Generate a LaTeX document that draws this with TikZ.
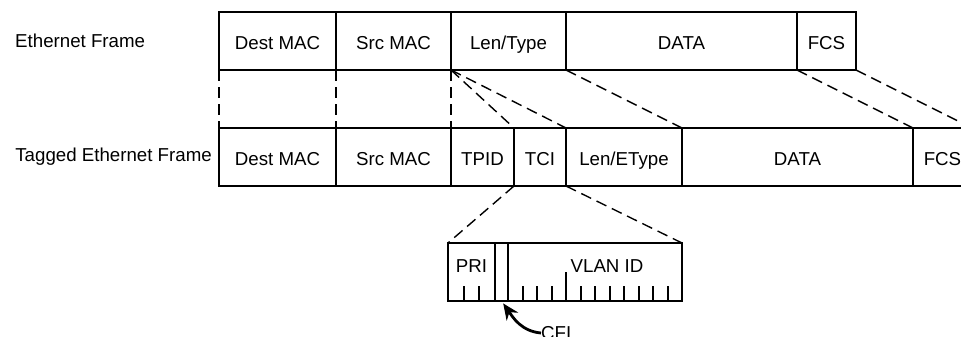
\documentclass[tikz,border=0pt]{standalone}
\usepackage{fontspec}
\setmainfont{Liberation Sans}
\usetikzlibrary{arrows.meta, positioning, calc}
\tikzset{
  FrameField/.style = {
      draw,
      line width = 1.8pt,
      outer sep = 0pt,
      inner sep = 0pt,
      minimum height = 58pt,
      anchor = north west,
      font = \fontsize{18.7}{22}\selectfont,
      text height = 17.8pt,
      text depth = 0pt,
  },
  RowLabel/.style = {
      inner sep = 0pt,
      font = \fontsize{18.7}{22}\selectfont,
  },
  MapLine/.style = {
      line width = 1.4pt,
      dash pattern = on 11pt off 6pt,
  },
  BitTick/.style = {line width = 2pt},
  CfiArrow/.style = {
      line width = 2.8pt,
      -{Stealth[length=16pt, width=14pt]},
      shorten >= 3pt,
  },
}
\begin{document}
\begin{tikzpicture}[x=1pt, y=-1pt]
  \useasboundingbox (0,0) rectangle (961,337);

  % Ethernet Frame oben
  \node[RowLabel, anchor=west] (ethlabel) at (15,41) {Ethernet Frame};
  \node[FrameField, minimum width=117pt] (ethdest) at (219,12) {Dest MAC};
  \node[FrameField, minimum width=115pt, right=0pt of ethdest] (ethsrc) {Src MAC};
  \node[FrameField, minimum width=115pt, right=0pt of ethsrc] (ethlen) {Len/Type};
  \node[FrameField, minimum width=231pt, right=0pt of ethlen] (ethdata) {DATA};
  \node[FrameField, minimum width=59pt, right=0pt of ethdata] (ethfcs) {FCS};

  % Tagged Ethernet Frame unten
  \node[FrameField, minimum width=117pt] (vlandest) at (219,128) {Dest MAC};
  \node[RowLabel, left=7pt of vlandest] (vlanlabel) {Tagged Ethernet Frame};
  \node[FrameField, minimum width=115pt, right=0pt of vlandest] (vlansrc) {Src MAC};
  \node[FrameField, minimum width=63pt, right=0pt of vlansrc] (vlantpid) {TPID};
  \node[FrameField, minimum width=52pt, right=0pt of vlantpid] (vlantci) {TCI};
  \node[FrameField, minimum width=116pt, right=0pt of vlantci] (vlanlen) {Len/EType};
  \node[FrameField, minimum width=231pt, right=0pt of vlanlen] (vlandata) {DATA};
  \node[FrameField, minimum width=59pt, right=0pt of vlandata] (vlanfcs) {FCS};

  % Zuordnung der Felder
  \draw[MapLine] (ethdest.south west) -- (vlandest.north west);
  \draw[MapLine] (ethsrc.south west) -- (vlansrc.north west);
  \draw[MapLine] (ethlen.south west) -- (vlantpid.north west);
  \draw[MapLine] (ethlen.south west) -- (vlantci.north west);
  \draw[MapLine] (ethlen.south west) -- (vlantci.north east);
  \draw[MapLine] (ethlen.south east) -- (vlanlen.north east);
  \draw[MapLine] (ethdata.south east) -- (vlandata.north east);
  \draw[MapLine] (ethfcs.south east) -- (vlanfcs.north east);

  % TCI im Detail
  \node[FrameField, minimum width=47pt,
        label={[RowLabel, anchor=north, yshift=-16pt]north:PRI}] (pri) at (448,243) {};
  \node[FrameField, minimum width=13pt, right=0pt of pri] (cfi) {};
  \node[FrameField, minimum width=174pt, right=0pt of cfi,
        label={[RowLabel, anchor=north, xshift=12pt, yshift=-16pt]north:VLAN ID}] (vid) {};
  \draw[MapLine] (vlantci.south west) -- (pri.north west);
  \draw[MapLine] (vlantci.south east) -- (vid.north east);

  % Bit-Markierungen
  \foreach \k in {1,2}
    \draw[BitTick] ($(pri.south west)+(\k*47/3,0)$) -- ++(0,-15);
  \foreach \k in {1,...,11}
    \draw[BitTick] ($(vid.south west)+(\k*174/12,0)$) -- ++(0,-15);
  \draw[BitTick] ($(vid.south west)+(4*174/12,0)$) -- ++(0,-29);

  % CFI Pfeil
  \node[RowLabel, anchor=west] (cfilabel) at (541,333) {CFI};
  \draw[CfiArrow] (cfilabel.west) to[out=175, in=-55] (cfi.south);

\end{tikzpicture}
\end{document}
